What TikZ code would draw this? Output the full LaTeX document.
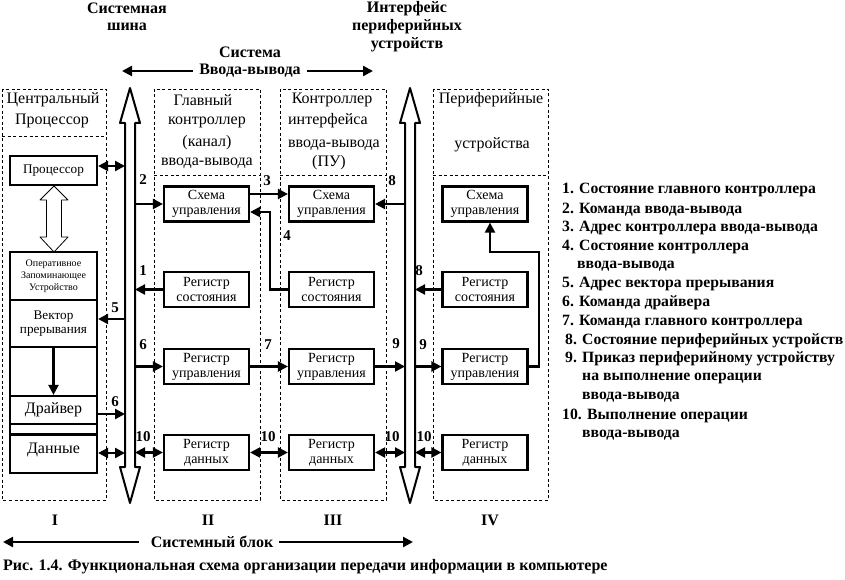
\documentclass[tikz,border=0pt]{standalone}
\usepackage{fontspec}
\setmainfont{Liberation Serif}
\usetikzlibrary{arrows.meta}
\begin{document}
\begin{tikzpicture}[x=1pt,y=-1pt,
  blk/.style={draw, line width=0.8pt, dash pattern=on 3pt off 2.5pt},
  box/.style={draw, line width=2.2pt, minimum width=85pt, minimum height=35pt, inner sep=0pt, align=center, font=\fontsize{14}{15}\selectfont},
  stk/.style={draw, line width=2.2pt, minimum width=87pt, inner sep=0pt, align=center},
  con/.style={line width=2.2pt, -{Triangle[length=10pt,width=10pt]}},
  dcon/.style={line width=2.2pt, {Triangle[length=10pt,width=10pt]}-{Triangle[length=10pt,width=10pt]}},
  bus/.style={draw, line width=2pt, line join=round, fill=white},
  hol/.style={draw, line width=0.8pt, line join=round},
  num/.style={font=\bfseries\fontsize{15}{15}\selectfont, inner sep=0pt},
  hdr/.style={font=\fontsize{16}{16}\selectfont, inner sep=0pt},
  ttl/.style={font=\bfseries\fontsize{16}{16}\selectfont, inner sep=0pt},
  leg/.style={font=\bfseries\fontsize{15.7}{16}\selectfont, inner sep=0pt, anchor=west}
]
\path[use as bounding box, fill=white] (0,0) rectangle (845,580);

% dashed blocks
\draw[blk] (2,89) rectangle (106,500);
\draw[blk] (2,136) -- (106,136);
\draw[blk] (154,89) rectangle (260,500);
\draw[blk] (154,175) -- (260,175);
\draw[blk] (280,89) rectangle (386,500);
\draw[blk] (280,175) -- (386,175);
\draw[blk] (433,89) rectangle (548,500);
\draw[blk] (433,175) -- (548,175);

% buses
\draw[bus] (130,88) -- (140,123) -- (135,123) -- (135,467) -- (140,467) -- (130,503)
  -- (120,467) -- (125,467) -- (125,123) -- (120,123) -- cycle;
\draw[bus] (410,88) -- (420,123) -- (415,123) -- (415,467) -- (420,467) -- (410,503)
  -- (400,467) -- (405,467) -- (405,123) -- (400,123) -- cycle;
\coordinate (s1L) at (125,0);
\coordinate (s1R) at (135,0);
\coordinate (s2L) at (405,0);
\coordinate (s2R) at (415,0);

% top titles
\node[ttl] (tsb1) at (127,8) {Системная};
\node[ttl] (tsb2) at (127,27) {шина};
\node[ttl] (tio1) at (250,52) {Система};
\node[ttl] (tio2) at (250,71) {Ввода-вывода};
\node[ttl] (tif1) at (407,9) {Интерфейс};
\node[ttl] (tif2) at (407,27) {периферийных};
\node[ttl] (tif3) at (407,45) {устройств};
\coordinate (aL) at (122,71);
\coordinate (aR) at (373,71);
\draw[con] (tio2.west) ++(-6,0) -- (aL);
\draw[con] (tio2.east) ++(6,0) -- (aR);

% headers
\node[hdr] (h1a) at (53,100) {Центральный};
\node[hdr] (h1b) at (52,121) {Процессор};
\node[hdr] (h2a) at (203,100) {Главный};
\node[hdr] (h2b) at (207,122) {контроллер};
\node[hdr] (h2c) at (207,143) {(канал)};
\node[hdr] (h2d) at (207,163) {ввода-вывода};
\node[hdr] (h3a) at (332,100) {Контроллер};
\node[hdr] (h3b) at (328,121) {интерфейса};
\node[hdr] (h3c) at (334,145) {ввода-вывода};
\node[hdr] (h3d) at (329,163) {(ПУ)};
\node[hdr] (h4a) at (491,100) {Периферийные};
\node[hdr] (h4b) at (492,145) {устройства};

% block I
\node[stk, minimum height=29pt, font=\fontsize{13.2}{15}\selectfont] (bp) at (53.5,170.5) {Процессор};
\node[stk, minimum height=48pt, font=\fontsize{10}{12}\selectfont] (ozu) at (53.5,276) {Оперативное\\Запоминающее\\Устройство};
\node[stk, minimum height=47pt, font=\fontsize{13.2}{14.5}\selectfont] (vek) at (53.5,323.5) {Вектор\\прерывания};
\node[stk, minimum height=49pt] (emp) at (53.5,371.5) {};
\node[stk, minimum height=28pt, font=\fontsize{16}{16}\selectfont] (drv) at (53.5,410) {Драйвер};
\node[stk, minimum height=10pt] (gap) at (53.5,429) {};
\node[stk, minimum height=38pt, anchor=north, font=\fontsize{16}{16}\selectfont] (dat) at (53.5,434) {\raisebox{11pt}{Данные}};
\draw[hol] (54,186) -- (68,200) -- (61.5,200) -- (61.5,237) -- (68,237) -- (54,252)
  -- (40,237) -- (46.5,237) -- (46.5,200) -- (40,200) -- cycle;
\draw[con] (vek.south) -- (drv.north);
\draw[dcon] ([yshift=4.5pt]bp.east) -- ([yshift=4.5pt]bp.east -| s1L);
\draw[con] ([yshift=4.5pt]vek.east -| s1L) -- ([yshift=4.5pt]vek.east);
\draw[con] ([yshift=-4pt]drv.east) -- ([yshift=-4pt]drv.east -| s1L);
\draw[dcon] (dat.east |- 0,453) -- (s1L |- 0,453);

% block II
\node[box] (b2s) at (206.5,204) {Схема\\управления};
\node[box] (b2r) at (206.5,289.5) {Регистр\\состояния};
\node[box] (b2u) at (206.5,366.5) {Регистр\\управления};
\node[box] (b2d) at (206.5,452.5) {Регистр\\данных};
% block III
\node[box] (b3s) at (331.5,204) {Схема\\управления};
\node[box] (b3r) at (331.5,289.5) {Регистр\\состояния};
\node[box] (b3u) at (331.5,366.5) {Регистр\\управления};
\node[box] (b3d) at (331.5,452.5) {Регистр\\данных};
% block IV
\node[box] (b4s) at (485,204) {Схема\\управления};
\node[box] (b4r) at (485,289.5) {Регистр\\состояния};
\node[box] (b4u) at (485,366.5) {Регистр\\управления};
\node[box] (b4d) at (485,452.5) {Регистр\\данных};

% bus 1 <-> II
\draw[con] (b2s.west -| s1R) -- (b2s.west);
\draw[con] (b2r.west) -- (b2r.west -| s1R);
\draw[con] (b2u.west -| s1R) -- (b2u.west);
\draw[dcon] (b2d.west -| s1R) -- (b2d.west);
% II <-> III
\draw[con] ([yshift=10pt]b2s.east) -- ([yshift=10pt]b2s.east -| b3s.west);
\draw[con] (b3r.west) -- ++(-18,0) |- ([yshift=-8pt]b2s.east);
\draw[con] (b2u.east) -- (b3u.west);
\draw[dcon] (b2d.east) -- (b3d.west);
% III <-> bus 2
\draw[con] (b3s.east -| s2L) -- (b3s.east);
\draw[con] (b3u.east) -- (b3u.east -| s2L);
\draw[dcon] (b3d.east) -- (b3d.east -| s2L);
% bus 2 <-> IV
\draw[con] (b4r.west) -- (b4r.west -| s2R);
\draw[con] (b4u.west -| s2R) -- (b4u.west);
\draw[dcon] (b4d.west -| s2R) -- (b4d.west);
\coordinate (k4) at (490,252);
\draw[con] (b4u.east) -- ++(10,0) |- (k4) -- (k4 |- b4s.south);

% numbers
\node[num] (n5) at (115,308) {5};
\node[num] (n6a) at (115,402) {6};
\node[num] (n2) at (143,180) {2};
\node[num] (n1) at (143,271) {1};
\node[num] (n6b) at (143,345) {6};
\node[num] (n10a) at (143,437) {10};
\node[num] (n3) at (267,181) {3};
\node[num] (n4) at (287,236) {4};
\node[num] (n7) at (268,345) {7};
\node[num] (n10b) at (268,437) {10};
\node[num] (n8a) at (392,181) {8};
\node[num] (n9a) at (396,344) {9};
\node[num] (n10c) at (392,437) {10};
\node[num] (n8b) at (419,271) {8};
\node[num] (n9b) at (423,345) {9};
\node[num] (n10d) at (424,437) {10};

% roman numerals
\node[ttl] (r1) at (55,520) {I};
\node[ttl] (r2) at (208,520) {II};
\node[ttl] (r3) at (333,520) {III};
\node[ttl] (r4) at (490,520) {IV};

% system block
\node[ttl] (sbl) at (212,542) {Системный блок};
\coordinate (bL) at (3,542);
\coordinate (bR) at (413,542);
\draw[con] (sbl.west) ++(-12,0) -- (bL);
\draw[con] (sbl.east) ++(6,0) -- (bR);

% caption
\node[ttl, anchor=west] (cap) at (3,567) {Рис. 1.4. Функциональная схема организации передачи информации в компьютере};

% legend
\node[leg] (l1) at (562,190) {1. Состояние главного контроллера};
\node[leg] (l2) at (562,210) {2. Команда ввода-вывода};
\node[leg] (l3) at (562,228) {3. Адрес контроллера ввода-вывода};
\node[leg] (l4) at (562,247) {4. Состояние контроллера};
\node[leg] (l4b) at (577,266) {ввода-вывода};
\node[leg] (l5) at (562,284) {5. Адрес вектора прерывания};
\node[leg] (l6) at (562,303) {6. Команда драйвера};
\node[leg] (l7) at (562,322) {7. Команда главного контроллера};
\node[leg] (l8) at (565,341) {8. Состояние периферийных устройств};
\node[leg] (l9) at (565,359) {9. Приказ периферийному устройству};
\node[leg] (l9b) at (582,378) {на выполнение операции};
\node[leg] (l9c) at (582,397) {ввода-вывода};
\node[leg] (l10) at (562,416) {10. Выполнение операции};
\node[leg] (l10b) at (582,435) {ввода-вывода};
\end{tikzpicture}
\end{document}
